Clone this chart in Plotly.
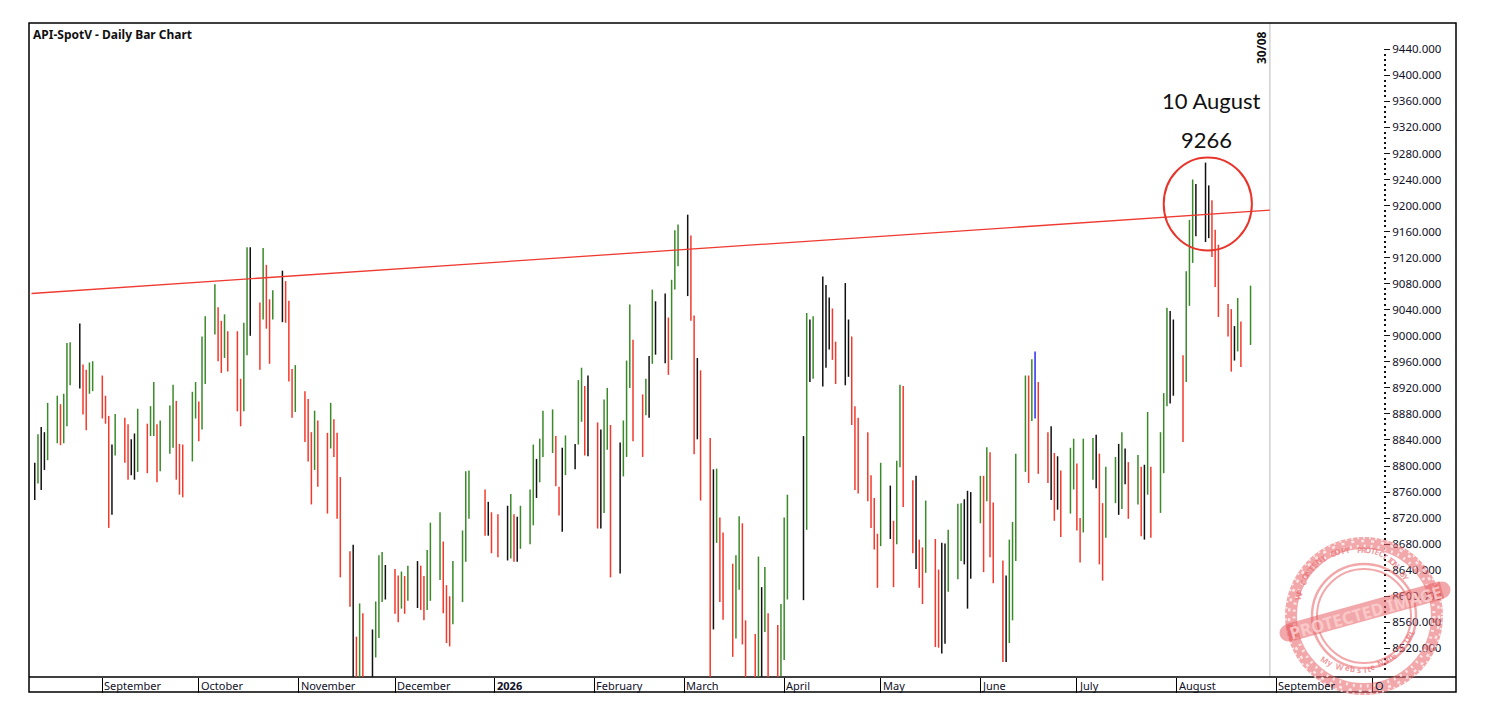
import math
import pandas as pd
import plotly.graph_objects as go

# ==========================================
# daily bars, one row per trading week
# ==========================================
DATES = [
    "2025-08-11", "2025-08-12", "2025-08-13", "2025-08-14", "2025-08-15",
    "2025-08-18", "2025-08-19", "2025-08-20", "2025-08-21", "2025-08-22",
    "2025-08-25", "2025-08-26", "2025-08-27", "2025-08-28", "2025-08-29",
    "2025-09-01", "2025-09-02", "2025-09-03", "2025-09-04", "2025-09-05",
    "2025-09-08", "2025-09-09", "2025-09-10", "2025-09-11", "2025-09-12",
    "2025-09-15", "2025-09-16", "2025-09-17", "2025-09-18", "2025-09-19",
    "2025-09-22", "2025-09-23", "2025-09-24", "2025-09-25", "2025-09-26",
    "2025-09-29", "2025-09-30", "2025-10-01", "2025-10-02", "2025-10-03",
    "2025-10-06", "2025-10-07", "2025-10-08", "2025-10-09", "2025-10-10",
    "2025-10-13", "2025-10-14", "2025-10-15", "2025-10-16", "2025-10-17",
    "2025-10-20", "2025-10-21", "2025-10-22", "2025-10-23", "2025-10-24",
    "2025-10-27", "2025-10-28", "2025-10-29", "2025-10-30", "2025-10-31",
    "2025-11-03", "2025-11-04", "2025-11-05", "2025-11-06", "2025-11-07",
    "2025-11-10", "2025-11-11", "2025-11-12", "2025-11-13", "2025-11-14",
    "2025-11-17", "2025-11-18", "2025-11-19", "2025-11-20", "2025-11-21",
    "2025-11-24", "2025-11-25", "2025-11-26", "2025-11-27", "2025-11-28",
    "2025-12-01", "2025-12-02", "2025-12-03", "2025-12-04", "2025-12-05",
    "2025-12-08", "2025-12-09", "2025-12-10", "2025-12-11", "2025-12-12",
    "2025-12-15", "2025-12-16", "2025-12-17", "2025-12-18", "2025-12-19",
    "2025-12-22", "2025-12-23", "2025-12-24",
    "2025-12-29", "2025-12-30", "2025-12-31", "2026-01-02",
    "2026-01-05", "2026-01-06", "2026-01-07", "2026-01-08", "2026-01-09",
    "2026-01-12", "2026-01-13", "2026-01-14", "2026-01-15", "2026-01-16",
    "2026-01-19", "2026-01-20", "2026-01-21", "2026-01-22", "2026-01-23",
    "2026-01-26", "2026-01-27", "2026-01-28", "2026-01-29", "2026-01-30",
    "2026-02-02", "2026-02-03", "2026-02-04", "2026-02-05", "2026-02-06",
    "2026-02-09", "2026-02-10", "2026-02-11", "2026-02-12", "2026-02-13",
    "2026-02-16", "2026-02-17", "2026-02-18", "2026-02-19", "2026-02-20",
    "2026-02-23", "2026-02-24", "2026-02-25", "2026-02-26", "2026-02-27",
    "2026-03-02", "2026-03-03", "2026-03-04", "2026-03-05", "2026-03-06",
    "2026-03-09", "2026-03-10", "2026-03-11", "2026-03-12", "2026-03-13",
    "2026-03-16", "2026-03-17", "2026-03-18", "2026-03-19", "2026-03-20",
    "2026-03-23", "2026-03-24", "2026-03-25", "2026-03-26", "2026-03-27",
    "2026-03-30", "2026-03-31", "2026-04-01", "2026-04-02",
    "2026-04-07", "2026-04-08", "2026-04-09", "2026-04-10",
    "2026-04-13", "2026-04-14", "2026-04-15", "2026-04-16", "2026-04-17",
    "2026-04-20", "2026-04-21", "2026-04-22", "2026-04-23", "2026-04-24",
    "2026-04-27", "2026-04-28", "2026-04-29", "2026-04-30", "2026-05-01",
    "2026-05-04", "2026-05-05", "2026-05-06", "2026-05-07", "2026-05-08",
    "2026-05-11", "2026-05-12", "2026-05-13", "2026-05-14", "2026-05-15",
    "2026-05-18", "2026-05-19", "2026-05-20", "2026-05-21", "2026-05-22",
    "2026-05-25", "2026-05-26", "2026-05-27", "2026-05-28", "2026-05-29",
    "2026-06-01", "2026-06-02", "2026-06-03", "2026-06-04", "2026-06-05",
    "2026-06-08", "2026-06-09", "2026-06-10", "2026-06-11", "2026-06-12",
    "2026-06-15", "2026-06-16", "2026-06-17", "2026-06-18", "2026-06-19",
    "2026-06-22", "2026-06-23", "2026-06-24", "2026-06-25", "2026-06-26",
    "2026-06-29", "2026-06-30", "2026-07-01", "2026-07-02", "2026-07-03",
    "2026-07-06", "2026-07-07", "2026-07-08", "2026-07-09", "2026-07-10",
    "2026-07-13", "2026-07-14", "2026-07-15", "2026-07-16", "2026-07-17",
    "2026-07-20", "2026-07-21", "2026-07-22", "2026-07-23", "2026-07-24",
    "2026-07-27", "2026-07-28", "2026-07-29", "2026-07-30", "2026-07-31",
    "2026-08-03", "2026-08-04", "2026-08-05", "2026-08-06", "2026-08-07",
    "2026-08-10", "2026-08-11", "2026-08-12", "2026-08-13", "2026-08-14",
    "2026-08-17", "2026-08-18", "2026-08-19", "2026-08-20", "2026-08-21",
    "2026-08-24",
]

OPENS = [
    8763, 8794, 8834, 8794, 8835, 8895, 8884, 8856, 8880, 8979,
    8936, 8946, 8885, 8936, 8959, 8937, 8897, 8875, 8730, 8818,
    8856, 8856, 8802, 8828, 8801, 8865, 8846, 8854, 8855, 8800,
    8819, 8842, 8884, 8805, 8793, 8824, 8892, 8863, 8863, 8977,
    9013, 9013, 8987, 8967, 8994, 8984, 8901, 8895, 9019, 9099,
    9005, 9049, 9095, 9034, 9047, 9040, 9079, 9030, 8938, 8891,
    8888, 8898, 8788, 8795, 8836, 8776, 8845, 8839, 8824, 8776,
    8644, 8651, 8504, 8470, 8570, 8480, 8531, 8546, 8627, 8622,
    8626, 8589, 8590, 8598, 8612, 8636, 8635, 8585, 8583, 8593,
    8714, 8632, 8569, 8577, 8560,
    8601, 8677, 8770,
    8743, 8707, 8710, 8663,
    8708, 8715, 8659, 8680, 8676, 8682, 8733, 8789, 8791, 8835,
    8867, 8843, 8748, 8743, 8797, 8824, 8835, 8905, 8898, 8890,
    8818, 8726, 8822, 8898, 8861, 8668, 8820, 8819, 8955, 8972,
    8849, 8883, 8902, 8963, 9051, 9030, 8975, 8982, 9079, 9131,
    9168, 9154, 9030, 8856, 8918, 8838, 8585, 8699, 8719, 8617,
    8609, 8588, 8634, 8692, 8532, 8498, 8470, 8570, 8565, 8565,
    8549, 8496, 8507, 8705,
    8600, 8762, 8978, 9005,
    8995, 8951, 9023, 9020, 8985, 8974, 8980, 8969, 8891, 8835,
    8805, 8780, 8719, 8691, 8678, 8743, 8716, 8691, 8798, 8897,
    8770, 8715, 8667, 8658, 8664, 8661, 8541, 8649, 8532, 8637,
    8677, 8710, 8676, 8622, 8628, 8756, 8745, 8765, 8816, 8702,
    8623, 8529, 8617, 8653, 8657, 8806, 8926, 8904, 8962, 8910,
    8833, 8811, 8752, 8791, 8751, 8768, 8774, 8778, 8706, 8700,
    8810, 8819, 8788, 8743, 8733, 8770, 8786, 8765, 8803, 8793,
    8751, 8758, 8744, 8757, 8783, 8729, 8836, 8907, 8907, 8920,
    8944, 8967, 9152, 9135, 9192, 9210, 9183, 9185, 9154, 9126,
    9044, 9005, 8995, 9011, 9015,
    8994,
]

HIGHS = [
    8805, 8849, 8860, 8852, 8897, 8908, 8895, 8911, 8989, 8990,
    9019, 8956, 8948, 8959, 8961, 8939, 8908, 8877, 8833, 8880,
    8874, 8864, 8841, 8850, 8888, 8865, 8892, 8929, 8864, 8870,
    8893, 8925, 8900, 8834, 8833, 8914, 8929, 8899, 8999, 9030,
    9079, 9044, 9023, 9033, 9007, 9007, 8934, 9020, 9136, 9136,
    9051, 9135, 9109, 9056, 9070, 9100, 9084, 9054, 8949, 8955,
    8915, 8903, 8852, 8885, 8870, 8851, 8897, 8872, 8851, 8783,
    8669, 8679, 8538, 8589, 8574, 8549, 8592, 8663, 8668, 8648,
    8642, 8632, 8638, 8631, 8647, 8654, 8647, 8631, 8671, 8713,
    8729, 8684, 8617, 8600, 8654,
    8701, 8792, 8793,
    8764, 8745, 8729, 8726,
    8739, 8757, 8726, 8722, 8739, 8764, 8833, 8811, 8842, 8885,
    8887, 8846, 8768, 8828, 8847, 8834, 8932, 8951, 8923, 8939,
    8867, 8856, 8902, 8920, 8863, 8836, 8870, 8962, 9048, 8994,
    8910, 8934, 8969, 9071, 9053, 9065, 9028, 9086, 9162, 9171,
    9186, 9154, 9031, 8966, 8947, 8843, 8795, 8796, 8721, 8698,
    8650, 8663, 8723, 8712, 8563, 8542, 8661, 8614, 8645, 8574,
    8556, 8588, 8721, 8756,
    8846, 9035, 9025, 9030,
    9091, 9078, 9059, 9042, 8991, 9081, 9025, 8999, 8892, 8874,
    8852, 8786, 8751, 8696, 8805, 8770, 8716, 8808, 8925, 8923,
    8778, 8785, 8687, 8675, 8747, 8688, 8641, 8682, 8681, 8702,
    8742, 8743, 8749, 8762, 8760, 8785, 8785, 8829, 8821, 8744,
    8655, 8632, 8687, 8714, 8819, 8939, 8939, 8964, 8976, 8929,
    8852, 8861, 8820, 8815, 8793, 8828, 8842, 8804, 8720, 8842,
    8843, 8848, 8819, 8743, 8799, 8814, 8834, 8852, 8827, 8806,
    8817, 8799, 8802, 8883, 8799, 8852, 8912, 9043, 9038, 9025,
    8970, 9099, 9178, 9240, 9233, 9266, 9231, 9208, 9163, 9140,
    9049, 9041, 9015, 9058, 9022,
    9077,
]

LOWS = [
    8748, 8773, 8763, 8794, 8809, 8835, 8832, 8835, 8861, 8924,
    8919, 8879, 8855, 8911, 8915, 8873, 8865, 8705, 8725, 8816,
    8805, 8779, 8786, 8779, 8791, 8789, 8846, 8846, 8775, 8792,
    8819, 8828, 8779, 8756, 8752, 8807, 8873, 8838, 8856, 8926,
    9002, 8961, 8943, 8966, 8945, 8884, 8861, 8884, 8970, 9000,
    8948, 9025, 9011, 8957, 9025, 9021, 9020, 8930, 8874, 8883,
    8837, 8807, 8741, 8794, 8768, 8727, 8827, 8814, 8719, 8629,
    8584, 8460, 8460, 8460, 8460, 8462, 8506, 8536, 8591, 8595,
    8573, 8560, 8581, 8573, 8593, 8582, 8579, 8563, 8579, 8593,
    8625, 8574, 8528, 8523, 8557,
    8591, 8653, 8719,
    8693, 8693, 8666, 8660,
    8655, 8658, 8653, 8653, 8673, 8680, 8709, 8751, 8775, 8814,
    8820, 8769, 8724, 8699, 8786, 8795, 8833, 8868, 8816, 8815,
    8704, 8704, 8728, 8825, 8629, 8635, 8784, 8814, 8920, 8838,
    8814, 8878, 8874, 8957, 8971, 8958, 8940, 8963, 9071, 9107,
    9061, 9023, 8818, 8841, 8747, 8460, 8549, 8682, 8591, 8564,
    8507, 8535, 8610, 8526, 8460, 8460, 8460, 8460, 8545, 8460,
    8460, 8477, 8502, 8595,
    8594, 8702, 8929, 8934,
    8922, 8951, 8979, 8963, 8926, 8924, 8937, 8863, 8763, 8758,
    8746, 8705, 8672, 8613, 8677, 8688, 8614, 8680, 8798, 8737,
    8666, 8642, 8613, 8588, 8636, 8522, 8521, 8512, 8527, 8607,
    8626, 8654, 8649, 8581, 8627, 8712, 8637, 8746, 8660, 8620,
    8499, 8499, 8528, 8563, 8654, 8791, 8774, 8869, 8873, 8788,
    8774, 8748, 8716, 8733, 8691, 8727, 8764, 8701, 8652, 8698,
    8779, 8766, 8649, 8624, 8690, 8743, 8725, 8734, 8772, 8719,
    8741, 8692, 8687, 8756, 8690, 8728, 8789, 8892, 8896, 8908,
    8837, 8929, 9046, 9112, 9153, 9144, 9150, 9121, 9075, 9029,
    8999, 8945, 8962, 8976, 8952,
    8986,
]

CLOSES = [
    8796, 8840, 8793, 8829, 8897, 8898, 8856, 8879, 8982, 8927,
    8949, 8893, 8936, 8957, 8939, 8893, 8880, 8723, 8817, 8862,
    8856, 8806, 8824, 8806, 8864, 8847, 8870, 8911, 8797, 8828,
    8847, 8882, 8810, 8802, 8820, 8896, 8873, 8875, 8972, 9014,
    9006, 8987, 8970, 8994, 8980, 8901, 8919, 9019, 9099, 9007,
    9043, 9102, 9035, 9046, 9035, 9079, 9076, 9030, 8900, 8893,
    8902, 8811, 8805, 8843, 8769, 8848, 8845, 8823, 8828, 8642,
    8658, 8509, 8470, 8570, 8465, 8538, 8548, 8625, 8631, 8625,
    8583, 8593, 8599, 8615, 8632, 8636, 8589, 8583, 8593, 8709,
    8636, 8604, 8560, 8567, 8599,
    8675, 8778, 8764,
    8715, 8707, 8679, 8707,
    8715, 8659, 8682, 8688, 8699, 8730, 8783, 8792, 8835, 8878,
    8845, 8787, 8742, 8808, 8817, 8828, 8898, 8897, 8890, 8829,
    8733, 8815, 8896, 8851, 8646, 8824, 8816, 8957, 8974, 8843,
    8880, 8901, 8962, 9046, 9031, 8977, 8981, 9079, 9140, 9137,
    9157, 9035, 8850, 8925, 8839, 8565, 8694, 8728, 8617, 8606,
    8577, 8609, 8690, 8534, 8499, 8470, 8573, 8576, 8564, 8552,
    8491, 8509, 8710, 8609,
    8763, 8990, 9003, 8985,
    8952, 9002, 9021, 8982, 8974, 8982, 8978, 8878, 8831, 8801,
    8780, 8729, 8695, 8665, 8748, 8714, 8682, 8798, 8897, 8777,
    8732, 8682, 8658, 8671, 8658, 8524, 8640, 8527, 8644, 8685,
    8710, 8679, 8740, 8745, 8750, 8745, 8751, 8809, 8691, 8624,
    8509, 8610, 8667, 8649, 8814, 8924, 8924, 8952, 8904, 8828,
    8811, 8750, 8791, 8746, 8756, 8820, 8819, 8710, 8709, 8827,
    8829, 8784, 8753, 8738, 8771, 8771, 8765, 8804, 8801, 8756,
    8753, 8741, 8765, 8784, 8718, 8839, 8907, 8998, 9012, 8944,
    8967, 9086, 9162, 9196, 9201, 9182, 9185, 9152, 9128, 9046,
    9013, 9000, 9005, 9020, 8987,
    9041,
]

# g green, r red, k black, b blue
BAR_KINDS = list(
    "kgkkg" "grggg" "krrgg" "rrrkg" "rrkkg" "rggrg" "ggrrr" "ggrgg"
    "grrgr" "rrggk" "rgrrg" "krrrg" "rrrgr" "rgrrr" "rkrgr" "kgggk"
    "rrgrg" "krrgg" "grrrg" "ggg" "rkrr" "kgrkg" "ggkgg" "grrkg"
    "kggrk" "rkggr" "kgggr" "rgkgk" "krggg" "krrkr" "rkgrr" "rggrr"
    "rgkgr" "rggg" "kgkg" "kkkrr" "kkrrr" "rrrrg" "krggr" "rkrrg"
    "rrkkg" "ggkkk" "grgrr" "rkggg" "grgbr" "rkrkr" "ggrrg" "gkrrg"
    "gkgkr" "grkgr" "gggkk" "rgggk" "kkrrr" "rrkgr" "g"
)
KIND_COLOURS = {"g": "#3a8a2a", "r": "#f4392c", "k": "#111111", "b": "#2a2cf0"}

PRICE_TICKS = list(range(8520, 9441, 40))
MINOR_TICKS = [p for p in range(8480, 9440, 8) if p % 40 != 0]

MONTH_STARTS = ["2025-09-01", "2025-10-01", "2025-11-01", "2025-12-01", "2026-01-01", "2026-02-01",
                "2026-03-01", "2026-04-01", "2026-05-01", "2026-06-01", "2026-07-01", "2026-08-01",
                "2026-09-01", "2026-10-01"]
MONTH_LABELS = ["September", "October", "November", "December", "2026", "February", "March",
                "April", "May", "June", "July", "August", "September", "O"]

TREND_DATES = ["2025-08-10", "2026-08-30"]
TREND_PRICES = [9065, 9193]

LEFT, RIGHT, TOP, BOTTOM = 29, 1456, 23, 677
FONT = "Noto Sans"
STAMP = "rgba(232,96,100,0.55)"


def px(x):
    return (x - LEFT) / (RIGHT - LEFT)


def py(y):
    return (BOTTOM - y) / (BOTTOM - TOP)


bars = pd.DataFrame({"date": DATES, "open": OPENS, "high": HIGHS, "low": LOWS,
                     "close": CLOSES, "kind": BAR_KINDS})

fig = go.Figure()

# one trace per colour, the colour here doesnt follow up/down
for kind, colour in KIND_COLOURS.items():
    sub = bars[bars["kind"] == kind]
    fig.add_trace(go.Ohlc(x=sub["date"], open=sub["open"], high=sub["high"], low=sub["low"],
                          close=sub["close"], tickwidth=0.45, showlegend=False, hoverinfo="skip",
                          increasing=dict(line=dict(color=colour, width=1.5)),
                          decreasing=dict(line=dict(color=colour, width=1.5))))

fig.add_trace(go.Scatter(x=TREND_DATES, y=TREND_PRICES, mode="lines", showlegend=False,
                         hoverinfo="skip", line=dict(color="#ee3a30", width=1.3)))

shapes = [
    # end of data marker
    dict(type="line", xref="x", yref="paper", x0="2026-08-30", x1="2026-08-30", y0=0, y1=1,
         line=dict(color="#d2d2d2", width=1.5), layer="below"),
    # circle round the high
    dict(type="circle", xref="x", yref="y", x0="2026-07-28", x1="2026-08-24 10:00", y0=9131, y1=9274,
         line=dict(color="#e8352c", width=2)),
    # outer frame, includes the time strip
    dict(type="rect", xref="paper", yref="paper", x0=0, x1=1, y0=py(692), y1=1,
         line=dict(color="#000000", width=1.5), layer="below"),
    dict(type="line", xref="paper", yref="paper", x0=0, x1=1, y0=0, y1=0,
         line=dict(color="#000000", width=1.5), layer="below"),
]

# stamp
cx, cy = 1364, 616
for r, w in [(73, 12), (52, 2.5), (47, 2)]:
    shapes.append(dict(type="circle", xref="paper", yref="paper", x0=px(cx - r), x1=px(cx + r),
                       y0=py(cy + r), y1=py(cy - r), line=dict(color=STAMP, width=w)))
# white flecks so the ring looks inked
for r, w, dash in [(70, 3, "2px,5px"), (75, 2.5, "3px,7px"), (78, 2, "2px,4px")]:
    shapes.append(dict(type="circle", xref="paper", yref="paper", x0=px(cx - r), x1=px(cx + r),
                       y0=py(cy + r), y1=py(cy - r), line=dict(color="rgba(255,255,255,0.7)", width=w, dash=dash)))
shapes.append(dict(type="line", xref="paper", yref="paper", x0=px(1288), y0=py(633), x1=px(1442), y1=py(590),
                   line=dict(color=STAMP, width=18)))
for x, y in [(1288, 633), (1442, 590)]:
    shapes.append(dict(type="circle", xref="paper", yref="paper", x0=px(x - 8.5), x1=px(x + 8.5),
                       y0=py(y + 8.5), y1=py(y - 8.5), fillcolor=STAMP, line=dict(width=0)))

annotations = [
    dict(text="<b>API-SpotV - Daily Bar Chart</b>", x=px(31), y=py(34), xref="paper", yref="paper",
         xanchor="left", yanchor="middle", showarrow=False, font=dict(family=FONT, size=12, color="#111111")),
    dict(text="<b>30/08</b>", x=px(1262), y=py(48), xref="paper", yref="paper", textangle=-90,
         xanchor="center", yanchor="middle", showarrow=False, font=dict(family=FONT, size=12, color="#111111")),
    dict(text="10 August", x=px(1211), y=py(100), xref="paper", yref="paper", xanchor="center",
         yanchor="middle", showarrow=False, font=dict(family="Lato", size=22, color="#111111")),
    dict(text="9266", x=px(1206), y=py(139), xref="paper", yref="paper", xanchor="center",
         yanchor="middle", showarrow=False, font=dict(family="Lato", size=22, color="#111111")),
]
for date, label in zip(MONTH_STARTS, MONTH_LABELS):
    text = "<b>2026</b>" if label == "2026" else label
    annotations.append(dict(text=text, x=date, y=py(685), xref="x", yref="paper", xanchor="left",
                            yanchor="middle", showarrow=False,
                            font=dict(family=FONT, size=11, color="#101028")))

annotations.append(dict(text="<b>PROTECTED IMAGE</b>", x=px(1365), y=py(612), xref="paper", yref="paper",
                        textangle=-15.5, xanchor="center", yanchor="middle", showarrow=False,
                        font=dict(family=FONT, size=17, color="rgba(250,205,205,0.9)")))

# lettering round the stamp ring
for i, ch in enumerate("WP CONTENT COPY PROTECTION BY"):
    a = -78 + i * 4.9
    annotations.append(dict(text=f"<b>{ch}</b>", x=px(cx + 59 * math.sin(math.radians(a))),
                            y=py(cy - 59 * math.cos(math.radians(a))), xref="paper", yref="paper",
                            textangle=a, showarrow=False, font=dict(family=FONT, size=8, color="rgba(232,110,115,0.7)")))
for i, ch in enumerate("My Website Name & URL"):
    a = -30 + i * 4.9
    annotations.append(dict(text=f"<b>{ch}</b>", x=px(cx + 61 * math.sin(math.radians(a))),
                            y=py(cy + 61 * math.cos(math.radians(a))), xref="paper", yref="paper",
                            textangle=-a, showarrow=False, font=dict(family=FONT, size=8, color="rgba(232,110,115,0.7)")))

fig.update_layout(
    width=1486, height=712,
    margin=dict(l=LEFT, r=1486 - RIGHT, t=TOP, b=712 - BOTTOM),
    paper_bgcolor="white", plot_bgcolor="white",
    shapes=shapes, annotations=annotations,
    showlegend=False,
    xaxis=dict(type="date", range=["2025-08-09 05:00", "2026-10-26 21:00"], rangeslider=dict(visible=False),
               tickmode="array", tickvals=MONTH_STARTS, showticklabels=False, ticks="outside", ticklen=15,
               tickcolor="#000000", tickwidth=1, showgrid=False, zeroline=False, showline=False),
    yaxis=dict(range=[8476, 9480.4], side="right", anchor="free", position=(1383 - LEFT) / (RIGHT - LEFT),
               tickmode="array", tickvals=PRICE_TICKS, ticktext=[f"{p}.000" for p in PRICE_TICKS],
               ticks="outside", ticklen=6, tickcolor="#111111", tickwidth=1,
               minor=dict(tickmode="array", tickvals=MINOR_TICKS, ticks="outside", ticklen=2,
                          tickwidth=2, tickcolor="#111111", showgrid=False),
               tickfont=dict(family=FONT, size=11.5, color="#101028"), showgrid=False,
               zeroline=False, showline=False),
)

fig.write_html("out.html", config={"displayModeBar": False},
               post_script="document.body.style.margin='0';document.documentElement.style.overflow='hidden';")
